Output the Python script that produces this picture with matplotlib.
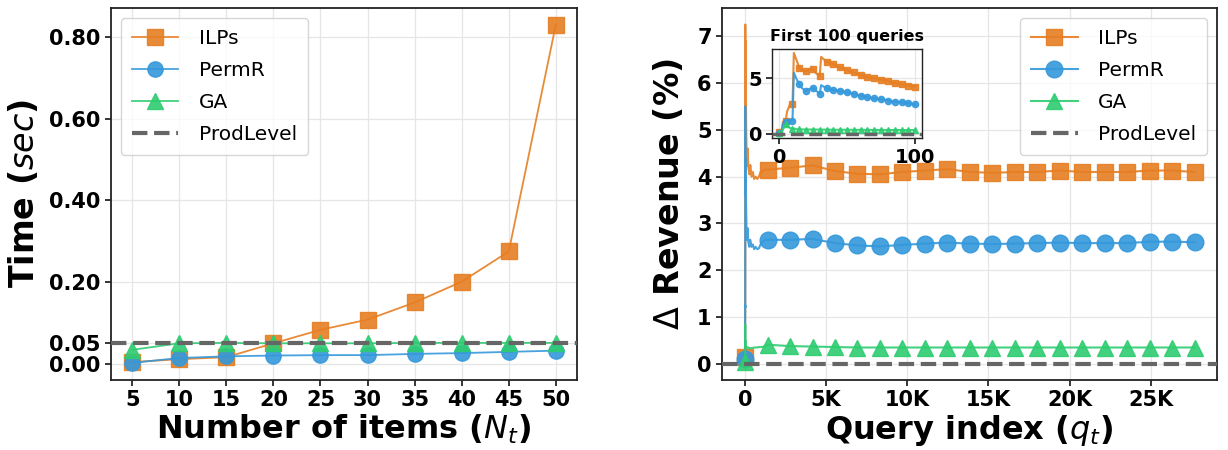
import matplotlib
matplotlib.use('Agg')
import matplotlib.pyplot as plt
from matplotlib.ticker import FuncFormatter

plt.rcParams['font.family'] = ['DejaVu Sans']

# ---------------- data: left panel ----------------
n_items = [5, 10, 15, 20, 25, 30, 35, 40, 45, 50]
time_ilps = [0.004, 0.011, 0.016, 0.050, 0.083, 0.108, 0.150, 0.201, 0.275, 0.831]
time_permr = [0.002, 0.014, 0.018, 0.020, 0.021, 0.021, 0.024, 0.026, 0.029, 0.032]
time_ga = [0.034, 0.050, 0.051, 0.050, 0.050, 0.050, 0.051, 0.051, 0.051, 0.051]
time_prod = 0.05
left_yticks = [0.0, 0.05, 0.2, 0.4, 0.6, 0.8]

# ---------------- data: right panel ----------------
# first 100 queries
q_first = [0, 2, 3, 5, 6, 8, 10, 11, 13, 15, 17, 20, 22, 25, 27, 30, 31, 35, 40, 45,
           50, 55, 60, 65, 70, 75, 80, 85, 90, 95, 100]
rev_ilps_first = [0.15, 0.2, 1.1, 1.15, 2.0, 2.6, 2.65, 7.25, 6.6, 5.9, 5.7, 5.6, 5.75, 5.8,
                  5.45, 5.2, 6.9, 6.45, 6.22, 5.95, 5.71, 5.5, 5.27, 5.06, 4.97, 4.85,
                  4.73, 4.55, 4.43, 4.32, 4.23]
rev_permr_first = [0.1, 0.15, 0.9, 1.1, 1.25, 1.25, 1.2, 5.5, 4.9, 4.43, 4.1, 3.84, 4.0,
                   4.14, 3.9, 3.6, 4.37, 4.08, 3.93, 3.84, 3.72, 3.6, 3.42, 3.3, 3.18,
                   3.1, 2.98, 2.89, 2.83, 2.74, 2.65]
rev_ga_first = [0.05, 0.1, 0.4, 0.85, 0.8, 0.55, 0.45, 0.5, 0.42, 0.42, 0.41, 0.4, 0.4,
                0.4, 0.4, 0.39, 0.39, 0.39, 0.38, 0.38, 0.38, 0.37, 0.37, 0.37, 0.36,
                0.36, 0.36, 0.36, 0.35, 0.35, 0.35]
# transient between 100 and first long-run marker
q_mid = [130, 160, 200, 260, 320, 400, 480, 560, 650, 750, 850, 950, 1050, 1150, 1250]
rev_ilps_mid = [4.4, 4.6, 4.2, 4.05, 4.25, 4.0, 4.1, 3.95, 4.0, 3.95, 4.0, 4.1, 4.1, 4.15, 4.15]
rev_permr_mid = [2.75, 2.9, 2.6, 2.5, 2.65, 2.5, 2.55, 2.45, 2.5, 2.45, 2.47, 2.55, 2.6, 2.62, 2.65]
rev_ga_mid = [0.33, 0.36, 0.33, 0.34, 0.33, 0.34, 0.34, 0.35, 0.35, 0.35, 0.36, 0.36, 0.36,
              0.37, 0.38]
# long run (marker positions)
q_tail = [1385, 2770, 4155, 5540, 6925, 8310, 9695, 11080, 12465, 13850, 15235, 16620,
          18005, 19390, 20775, 22160, 23545, 24930, 26315, 27700]
rev_ilps_tail = [4.15, 4.19, 4.24, 4.12, 4.06, 4.05, 4.10, 4.13, 4.16, 4.10, 4.08, 4.10,
                 4.10, 4.13, 4.10, 4.10, 4.10, 4.13, 4.13, 4.10]
rev_permr_tail = [2.65, 2.65, 2.67, 2.58, 2.53, 2.51, 2.54, 2.57, 2.59, 2.57, 2.56, 2.57,
                  2.58, 2.59, 2.58, 2.58, 2.58, 2.61, 2.61, 2.60]
rev_ga_tail = [0.41, 0.38, 0.37, 0.36, 0.35, 0.35, 0.35, 0.35, 0.35, 0.35, 0.35, 0.35,
               0.35, 0.35, 0.35, 0.35, 0.35, 0.35, 0.35, 0.35]
rev_prod = 0.0
right_xticks = [0, 5000, 10000, 15000, 20000, 25000]
right_yticks = [0, 1, 2, 3, 4, 5, 6, 7]

C_ILP = '#E67E22'
C_PERM = '#3498DB'
C_GA = '#2ECC71'
C_PROD = '#666666'

fig = plt.figure(figsize=(12.28, 4.5), dpi=100)
axL = fig.add_axes([0.0904, 0.156, 0.3795, 0.827])
axR = fig.add_axes([0.5880, 0.156, 0.4030, 0.827])


def style_axes(ax, fs=15):
    ax.grid(True, color='#e6e6e6', linewidth=0.9, zorder=0)
    ax.set_axisbelow(True)
    for s in ax.spines.values():
        s.set_linewidth(1.3)
        s.set_color('#222222')
    ax.tick_params(labelsize=fs, width=1.1, length=4)
    plt.setp(ax.get_xticklabels(), fontweight='bold')
    plt.setp(ax.get_yticklabels(), fontweight='bold')


leg_kw = dict(fontsize=14.5, borderpad=0.55, labelspacing=0.65, handlelength=2.3,
              handletextpad=1.0, edgecolor='#cccccc', fancybox=True)

# ---------------- left ----------------
axL.plot(n_items, time_ilps, '-s', color=C_ILP, lw=1.3, ms=11, alpha=0.9, label='ILPs', zorder=3)
axL.plot(n_items, time_permr, '-o', color=C_PERM, lw=1.3, ms=11, alpha=0.9, label='PermR', zorder=3)
axL.plot(n_items, time_ga, '-^', color=C_GA, lw=1.3, ms=11, alpha=0.9, label='GA', zorder=3)
axL.axhline(time_prod, color=C_PROD, ls='--', lw=3, label='ProdLevel', zorder=4)
axL.set_xticks(n_items)
axL.set_yticks(left_yticks)
axL.yaxis.set_major_formatter(FuncFormatter(lambda v, p: f'{v:.2f}'))
axL.set_xlabel('Number of items ($N_t$)', fontsize=23, fontweight='bold', labelpad=2)
axL.set_ylabel('Time ($sec$)', fontsize=24, fontweight='bold', labelpad=6)
style_axes(axL)
axL.legend(loc='upper left', **leg_kw)

# ---------------- right ----------------
q_all = q_first + q_mid + q_tail
ilps_all = rev_ilps_first + rev_ilps_mid + rev_ilps_tail
permr_all = rev_permr_first + rev_permr_mid + rev_permr_tail
ga_all = rev_ga_first + rev_ga_mid + rev_ga_tail
mark_idx = [0] + [len(q_first) + len(q_mid) + i for i in range(len(q_tail))]

axR.plot(q_all, ilps_all, '-s', color=C_ILP, lw=1.5, ms=12, alpha=0.9, markevery=mark_idx,
         label='ILPs', zorder=3)
axR.plot(q_all, permr_all, '-o', color=C_PERM, lw=1.5, ms=12, alpha=0.9, markevery=mark_idx,
         label='PermR', zorder=3)
axR.plot(q_all, ga_all, '-^', color=C_GA, lw=1.5, ms=12, alpha=0.9, markevery=mark_idx,
         label='GA', zorder=3)
axR.axhline(rev_prod, color=C_PROD, ls='--', lw=3, label='ProdLevel', zorder=4)
axR.set_xlim(-1420, 29080)
axR.set_ylim(-0.34, 7.61)
axR.set_xticks(right_xticks)
axR.xaxis.set_major_formatter(FuncFormatter(lambda v, p: '0' if v == 0 else f'{int(v/1000)}K'))
axR.set_yticks(right_yticks)
axR.set_xlabel('Query index ($q_t$)', fontsize=23, fontweight='bold', labelpad=2)
axR.set_ylabel('$\\Delta$ Revenue (%)', fontsize=24, fontweight='bold', labelpad=8)
style_axes(axR)
axR.legend(loc='upper right', **leg_kw)

# ---------------- inset ----------------
axI = fig.add_axes([0.6287, 0.6933, 0.1221, 0.1978])
inset_mark = [i for i, q in enumerate(q_first) if q % 5 == 0]
axI.plot(q_first, rev_ilps_first, '-s', color=C_ILP, lw=1.5, ms=4.5, alpha=0.9,
         markevery=inset_mark, zorder=3)
axI.plot(q_first, rev_permr_first, '-o', color=C_PERM, lw=1.5, ms=4.5, alpha=0.9,
         markevery=inset_mark, zorder=3)
axI.plot(q_first, rev_ga_first, '-^', color=C_GA, lw=1.5, ms=4.5, alpha=0.9,
         markevery=inset_mark, zorder=3)
axI.axhline(rev_prod, color=C_PROD, ls='--', lw=2.5, zorder=4)
axI.set_xlim(-5, 105)
axI.set_ylim(-0.36, 7.6)
axI.set_xticks([0, 100])
axI.set_yticks([0, 5])
style_axes(axI, fs=14)
for s in axI.spines.values():
    s.set_linewidth(1.0)
axI.set_title('First 100 queries', fontsize=11.5, fontweight='bold', pad=6)

fig.savefig('out.png', dpi=100)
